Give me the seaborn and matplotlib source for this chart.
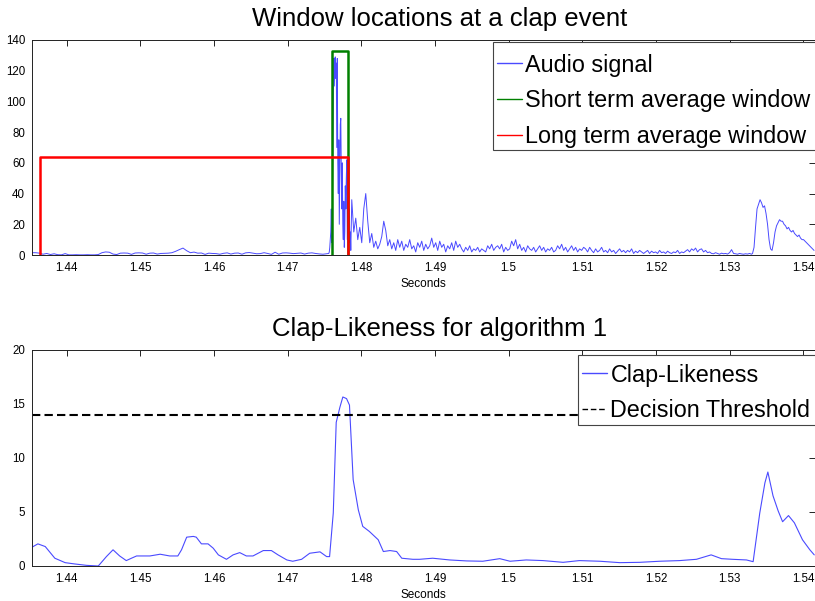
import numpy as np
import pandas as pd
import matplotlib
matplotlib.use("Agg")
import matplotlib.pyplot as plt
from matplotlib.patches import Rectangle
import seaborn as sns

# ---------------- data ----------------
# audio signal magnitude, in sampled segments (start time, end time, values)
quiet_span = (1.4353, 1.4753)
quiet_vals = [1.5, 1.5, 1.2, 0.5, 1.0, 0.3, 0.8, 0.2, 0.1, 0.9, 0.1, 0.1, 0.2, 0.1, 0.1, 0.2,
              0.1, 0.1, 0.3, 1.5, 2.0, 1.8, 0.6, 0.3, 1.2, 1.3, 1.2, 0.4, 1.3, 1.4, 1.3, 0.5,
              1.2, 1.3, 0.6, 1.0, 1.1, 1.2, 1.5, 2.4, 3.5, 4.5, 2.8, 1.5, 1.9, 1.2, 1.3, 0.4,
              1.2, 1.0, 0.9, 0.5, 1.1, 1.4, 0.6, 1.2, 1.3, 0.5, 1.4, 1.6, 1.2, 0.8, 0.9, 1.5,
              1.0, 0.4, 1.8, 0.5, 1.3, 1.4, 1.2, 0.9, 1.1, 1.3, 0.6, 1.2, 1.4, 1.0, 0.7, 0.5, 0.8]
spike_span = (1.47559, 1.47858)
spike_vals = [1, 2, 5, 10, 15, 30, 8, 25, 60, 100, 128, 110, 127, 129, 115, 125, 70, 128, 60, 40,
              75, 20, 50, 85, 89, 55, 30, 60, 20, 10, 35, 5, 15, 45, 30, 50, 62, 10, 25, 38,
              20, 30, 8, 15, 3]
decay_span = (1.478711, 1.490109)
decay_vals = [36, 15, 24, 10, 18, 8, 30, 40, 22, 8, 14, 5, 9, 4, 7, 12, 22, 16, 6, 10, 4, 8,
              3, 10, 5, 9, 3, 7, 5, 10, 4, 6, 2, 8, 5, 9, 3, 7, 4, 6, 11, 5, 8]
noise_span = (1.490380, 1.510190)
noise_vals = [3, 9, 5, 7, 2, 6, 4, 8, 3, 9, 5, 7, 4, 2, 5, 3, 6, 2, 4, 3, 5, 2, 4, 3, 2, 6, 4, 7,
              3, 5, 6, 4, 7, 2, 5, 3, 4, 9, 6, 10, 4, 7, 3, 5, 2, 6, 4, 3, 5, 2, 4, 6, 3, 5, 2, 4,
              3, 5, 2, 3, 6, 4, 7, 3, 5, 2, 4, 6, 3, 5, 2, 4, 3, 5]
tail_span = (1.510461, 1.532985)
tail_vals = [4, 2, 5, 3, 1.5, 4, 2, 3, 5, 2, 3, 1.5, 4, 2, 3, 1, 2.5, 4, 2, 3,
             1.5, 3, 2, 4, 1, 2.5, 1.5, 3, 2, 1, 2, 3, 1, 2.5, 1.5, 2, 1, 3, 1.5, 2,
             1, 2.5, 1.5, 1, 2, 1.5, 3, 1, 2, 1.5, 2.5, 3.5, 2, 4, 3, 4.5, 2, 3.5, 4, 2,
             3, 1.5, 2, 1, 0.8, 1.5, 1, 0.5, 1.2, 0.8, 1, 0.6, 1.5, 3.5, 1, 0.8, 0.5, 1, 0.7, 0.5,
             0.8, 0.6, 1, 0.5]
second_clap_span = (1.53312, 1.54147)
second_clap_vals = [1, 5, 18, 30, 33, 36, 34, 31, 32, 27, 20, 10, 4, 3, 8, 15, 19, 21, 23, 22, 22,
                    20, 19, 17, 18, 16, 15, 16, 14, 13, 12, 13, 11, 10, 10, 9, 8, 7, 6, 5, 4, 3]

# analysis windows
short_window = (1.4760, 1.4782, 133)   # start, end, height
long_window = (1.4364, 1.4782, 64)

# clap-likeness curve
clap_t = [1.4353, 1.4361, 1.4371, 1.4384, 1.4398, 1.4411, 1.4427, 1.4443, 1.4454, 1.4463,
          1.4472, 1.4481, 1.4488, 1.4495, 1.4513, 1.4527, 1.4540, 1.4551, 1.4556, 1.4563,
          1.4572, 1.4576, 1.4583, 1.4592, 1.4599, 1.4606, 1.4617, 1.4626, 1.4635, 1.4644,
          1.4653, 1.4667, 1.4678, 1.4687, 1.4699, 1.4707, 1.4719, 1.4730, 1.4744, 1.4753,
          1.4757, 1.4762, 1.4766, 1.4771, 1.4775, 1.4780, 1.4784, 1.4789, 1.4796, 1.4802,
          1.4811, 1.4823, 1.4830, 1.4839, 1.4848, 1.4855, 1.4870, 1.4879, 1.4897, 1.4920,
          1.4943, 1.4965, 1.4988, 1.5002, 1.5024, 1.5047, 1.5074, 1.5096, 1.5124, 1.5151,
          1.5178, 1.5205, 1.5232, 1.5255, 1.5275, 1.5289, 1.5304, 1.5323, 1.5332, 1.5341,
          1.5348, 1.5352, 1.5359, 1.5366, 1.5372, 1.5380, 1.5388, 1.5399, 1.5409, 1.5415]
clap_v = [1.74, 2.05, 1.8, 0.72, 0.31, 0.19, 0.06, 0.0, 0.87, 1.5,
          0.93, 0.5, 0.72, 0.93, 0.93, 1.09, 0.93, 0.93, 1.5, 2.67,
          2.74, 2.67, 2.05, 2.05, 1.65, 1.03, 0.62, 1.03, 1.24, 0.93,
          0.93, 1.43, 1.43, 1.03, 0.56, 0.44, 0.62, 1.18, 1.31, 0.87,
          0.87, 4.9, 13.3, 14.7, 15.65, 15.5, 14.9, 8.0, 5.2, 3.67,
          3.2, 2.43, 1.34, 1.43, 1.34, 0.72, 0.62, 0.62, 0.72, 0.56,
          0.47, 0.44, 0.68, 0.44, 0.56, 0.5, 0.34, 0.5, 0.44, 0.31,
          0.34, 0.44, 0.5, 0.62, 1.03, 0.68, 0.62, 0.56, 0.4, 4.9,
          7.7, 8.7, 6.5, 5.1, 4.1, 4.67, 4.0, 2.43, 1.5, 1.03]
threshold = 14

x_range = (1.4353, 1.5416)
xtick_vals = [1.44, 1.45, 1.46, 1.47, 1.48, 1.49, 1.50, 1.51, 1.52, 1.53, 1.54]
xtick_labels = ['1.44', '1.45', '1.46', '1.47', '1.48', '1.49', '1.5', '1.51', '1.52', '1.53', '1.54']
top_yticks = [0, 20, 40, 60, 80, 100, 120, 140]
bottom_yticks = [0, 5, 10, 15, 20]

# ---------------- build tables ----------------
segments = [(quiet_span, quiet_vals), (spike_span, spike_vals), (decay_span, decay_vals),
            (noise_span, noise_vals), (tail_span, tail_vals), (second_clap_span, second_clap_vals)]
audio_t = np.concatenate([np.linspace(s[0], s[1], len(v)) for s, v in segments])
audio_v = np.concatenate([np.asarray(v, float) for s, v in segments])
audio = pd.DataFrame({"t": audio_t, "v": audio_v})


def window_path(w):
    s, e, h = w
    return pd.DataFrame({"t": [s, s, e, e], "v": [0, h, h, 0]})


clap = pd.DataFrame({"t": clap_t, "v": clap_v})

# ---------------- plotting ----------------
sns.set_theme(style="white")
plt.rcParams["font.family"] = ["Liberation Sans", "DejaVu Sans"]
plt.rcParams["text.color"] = "black"
plt.rcParams["axes.labelcolor"] = "black"
plt.rcParams["axes.titlecolor"] = "black"

fig = plt.figure(figsize=(8.15, 6.01), dpi=100)
ax1 = fig.add_axes([32 / 815, 1 - 255 / 601, 783 / 815, 215 / 601])
ax2 = fig.add_axes([32 / 815, 1 - 566 / 601, 783 / 815, 216 / 601])

sns.lineplot(data=audio, x="t", y="v", ax=ax1, color="#4a4aff", lw=0.7,
             estimator=None, sort=False, label="Audio signal")
sns.lineplot(data=window_path(short_window), x="t", y="v", ax=ax1, color="#008000", lw=1.8,
             estimator=None, sort=False, label="Short term average window")
sns.lineplot(data=window_path(long_window), x="t", y="v", ax=ax1, color="#ff0000", lw=1.8,
             estimator=None, sort=False, label="Long term average window")

sns.lineplot(data=clap, x="t", y="v", ax=ax2, color="#4a4aff", lw=0.8,
             estimator=None, sort=False, label="Clap-Likeness")
ax2.axhline(threshold, color="black", ls=(0, (4, 2)), lw=1.5, label="Decision Threshold")

for ax, yt, ylim, title in [(ax1, top_yticks, (0, 140), "Window locations at a clap event"),
                            (ax2, bottom_yticks, (0, 20), "Clap-Likeness for algorithm 1")]:
    ax.set_xlim(*x_range)
    ax.set_ylim(*ylim)
    ax.set_xticks(xtick_vals)
    ax.set_xticklabels(xtick_labels)
    ax.set_yticks(yt)
    ax.set_yticklabels([str(v) for v in yt])
    ax.tick_params(direction="in", top=True, right=True, length=4, width=0.6,
                   labelsize=8.3, colors="black", pad=5)
    for sp in ax.spines.values():
        sp.set_color("#222222")
        sp.set_linewidth(0.7)
    ax.set_xlabel("Seconds", fontsize=8.5, labelpad=3)
    ax.set_ylabel("")
    ax.set_title(title, fontsize=18.5, pad=10, color="black")
    ax.title.set_x(0.52)

# legends: text block without frame + a white box drawn like the MATLAB legend frame
leg_kw = dict(loc="upper left", fontsize=16.8, frameon=False, borderpad=0,
              labelspacing=0.55, handlelength=1.09, handletextpad=0.13, borderaxespad=0)
for ax, box, anchor in [(ax1, (0.5888, 0.488, 0.9907), (0.5939, 0.937)),
                        (ax2, (0.6973, 0.653, 0.977), (0.7024, 0.937))]:
    x0, y0, y1 = box
    ax.add_patch(Rectangle((x0, y0), 0.5, y1 - y0, transform=ax.transAxes,
                           facecolor="white", edgecolor="#444444", lw=0.8,
                           zorder=4.5, clip_on=True))
    leg = ax.legend(bbox_to_anchor=anchor, **leg_kw)
    leg.set_zorder(5)
    for h in leg.get_lines():
        h.set_linewidth(1.0)
    for t in leg.get_texts():
        t.set_color("black")

fig.savefig("out.png", dpi=100)
